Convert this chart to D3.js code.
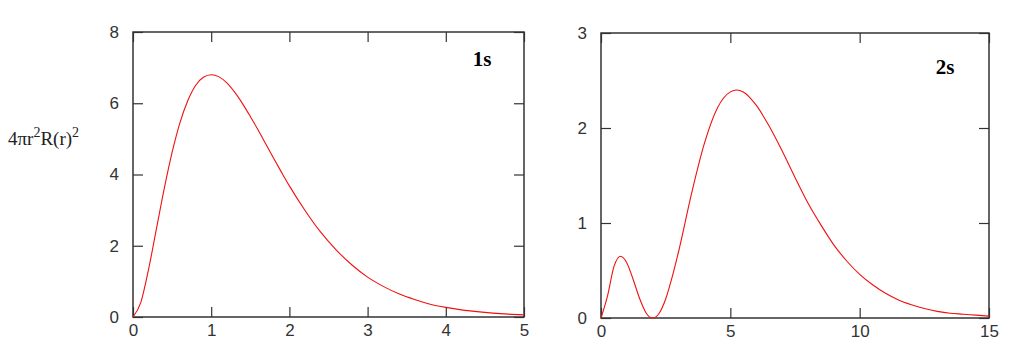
<!DOCTYPE html>
<html>
<head>
<meta charset="utf-8">
<script src="https://cdn.jsdelivr.net/npm/d3@7"></script>
<style>
    body { margin: 0; background: #fff; }
    svg { display: block; }
    .tick text { font-family: "Liberation Sans", Arial, sans-serif; font-size: 17px; fill: #333; }
    .tick line { stroke: #333; stroke-width: 1.2; }
    .frame { fill: none; stroke: #333; stroke-width: 1.5; }
    .curve { fill: none; stroke: #f01010; stroke-width: 1.1; }
    .orbital { font-family: "Liberation Serif", "Times New Roman", serif; font-weight: bold; font-size: 21px; fill: #000; }
    .ytitle { font-family: "Liberation Serif", "Times New Roman", serif; font-size: 19px; fill: #222; }
</style>
</head>
<body>
<svg id="chart" width="1021" height="349"></svg>
<script>
// values
const r1s = [0, 0.1, 0.2, 0.3, 0.4, 0.5, 0.6, 0.7, 0.8, 0.9, 1.0, 1.1, 1.2, 1.3, 1.4, 1.5, 1.6, 1.7, 1.8, 1.9,
    2.0, 2.2, 2.4, 2.6, 2.8, 3.0, 3.2, 3.4, 3.6, 3.8, 4.0, 4.2, 4.4, 4.6, 4.8, 5.0];
const p1s = [0, 0.41, 1.35, 2.48, 3.61, 4.62, 5.45, 6.07, 6.50, 6.73, 6.80, 6.74, 6.57, 6.31, 5.99, 5.63, 5.25, 4.85, 4.45, 4.06,
    3.68, 2.99, 2.38, 1.88, 1.46, 1.12, 0.86, 0.65, 0.49, 0.36, 0.27, 0.20, 0.15, 0.11, 0.08, 0.06];

const r2s = [0, 0.25, 0.5, 0.75, 1.0, 1.25, 1.5, 1.75, 2.0, 2.25, 2.5, 2.75, 3.0, 3.5, 4.0, 4.5, 5.0, 5.25, 5.5, 6.0,
    6.5, 7.0, 7.5, 8.0, 8.5, 9.0, 9.5, 10, 10.5, 11, 11.5, 12, 12.5, 13, 13.5, 14, 14.5, 15];
const p2s = [0, 0.23, 0.54, 0.65, 0.58, 0.40, 0.20, 0.05, 0, 0.05, 0.20, 0.43, 0.70, 1.31, 1.84, 2.21, 2.38, 2.40, 2.38, 2.24,
    2.02, 1.76, 1.48, 1.21, 0.98, 0.77, 0.60, 0.46, 0.35, 0.26, 0.19, 0.14, 0.10, 0.07, 0.05, 0.04, 0.03, 0.02];

const xTicks1s = [0, 1, 2, 3, 4, 5];
const yTicks1s = [0, 2, 4, 6, 8];
const xTicks2s = [0, 5, 10, 15];
const yTicks2s = [0, 1, 2, 3];

const panels = [
    { name: "1s", r: r1s, p: p1s, xMax: 5, yMax: 8, xTicks: xTicks1s, yTicks: yTicks1s,
      box: { left: 133, right: 524, top: 32, bottom: 317 }, label: { x: 482, y: 66 } },
    { name: "2s", r: r2s, p: p2s, xMax: 15, yMax: 3, xTicks: xTicks2s, yTicks: yTicks2s,
      box: { left: 601, right: 989, top: 33, bottom: 318 }, label: { x: 945, y: 74 } }
];

const svg = d3.select("#chart");
const fmt = d3.format("d");

function drawPanel(panel) {
    const b = panel.box;
    const x = d3.scaleLinear().domain([0, panel.xMax]).range([b.left, b.right]);
    const y = d3.scaleLinear().domain([0, panel.yMax]).range([b.bottom, b.top]);
    const g = svg.append("g");

    // ticks point inward on all four sides
    g.append("g")
        .attr("transform", `translate(0,${b.bottom})`)
        .call(d3.axisBottom(x).tickValues(panel.xTicks).tickFormat(fmt).tickSizeInner(-10).tickSizeOuter(0).tickPadding(7))
        .call(a => a.select(".domain").remove());

    g.append("g")
        .attr("transform", `translate(0,${b.top})`)
        .call(d3.axisTop(x).tickValues(panel.xTicks).tickSizeInner(-10).tickSizeOuter(0).tickFormat(""))
        .call(a => a.select(".domain").remove());

    g.append("g")
        .attr("transform", `translate(${b.left},0)`)
        .call(d3.axisLeft(y).tickValues(panel.yTicks).tickFormat(fmt).tickSizeInner(-10).tickSizeOuter(0).tickPadding(14))
        .call(a => a.select(".domain").remove());

    g.append("g")
        .attr("transform", `translate(${b.right},0)`)
        .call(d3.axisRight(y).tickValues(panel.yTicks).tickSizeInner(-10).tickSizeOuter(0).tickFormat(""))
        .call(a => a.select(".domain").remove());

    g.append("rect")
        .attr("class", "frame")
        .attr("x", b.left)
        .attr("y", b.top)
        .attr("width", b.right - b.left)
        .attr("height", b.bottom - b.top);

    const line = d3.line()
        .x(d => x(d[0]))
        .y(d => y(d[1]))
        .curve(d3.curveMonotoneX);

    g.append("path")
        .attr("class", "curve")
        .attr("d", line(d3.zip(panel.r, panel.p)));

    g.append("text")
        .attr("class", "orbital")
        .attr("x", panel.label.x)
        .attr("y", panel.label.y)
        .attr("text-anchor", "middle")
        .text(panel.name);
}

panels.forEach(drawPanel);

const title = svg.append("text")
    .attr("class", "ytitle")
    .attr("x", 8)
    .attr("y", 145);
title.append("tspan").text("4πr");
title.append("tspan").attr("dy", -8).attr("font-size", 14).text("2");
title.append("tspan").attr("dy", 8).text("R(r)");
title.append("tspan").attr("dy", -8).attr("font-size", 14).text("2");
</script>
</body>
</html>
